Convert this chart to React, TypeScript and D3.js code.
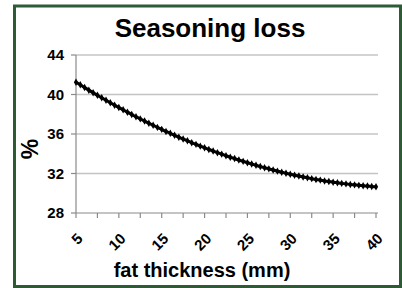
import React, { useEffect } from 'react';
import * as d3 from 'd3';

// fat thickness (mm), one point every 0.5 mm
const thickness = [
  5, 5.5, 6, 6.5, 7, 7.5, 8, 8.5, 9, 9.5, 10, 10.5, 11, 11.5, 12, 12.5, 13, 13.5,
  14, 14.5, 15, 15.5, 16, 16.5, 17, 17.5, 18, 18.5, 19, 19.5, 20, 20.5, 21, 21.5,
  22, 22.5, 23, 23.5, 24, 24.5, 25, 25.5, 26, 26.5, 27, 27.5, 28, 28.5, 29, 29.5,
  30, 30.5, 31, 31.5, 32, 32.5, 33, 33.5, 34, 34.5, 35, 35.5, 36, 36.5, 37, 37.5,
  38, 38.5, 39, 39.5, 40,
];

// seasoning loss (%)
const loss = [
  41.25, 40.98, 40.71, 40.44, 40.18, 39.92, 39.67, 39.42, 39.17, 38.92, 38.68, 38.45,
  38.21, 37.98, 37.75, 37.53, 37.31, 37.09, 36.88, 36.67, 36.47, 36.26, 36.07, 35.87,
  35.68, 35.49, 35.31, 35.12, 34.95, 34.77, 34.6, 34.44, 34.27, 34.11, 33.96, 33.8,
  33.65, 33.51, 33.36, 33.23, 33.09, 32.96, 32.83, 32.7, 32.58, 32.47, 32.35, 32.24,
  32.13, 32.03, 31.93, 31.83, 31.74, 31.65, 31.56, 31.48, 31.4, 31.33, 31.25, 31.19,
  31.12, 31.06, 31.0, 30.95, 30.89, 30.85, 30.8, 30.76, 30.73, 30.69, 30.66,
];

const xTicks = [5, 7.5, 10, 12.5, 15, 17.5, 20, 22.5, 25, 27.5, 30, 32.5, 35, 37.5, 40];
const xLabels = [5, 10, 15, 20, 25, 30, 35, 40];
const yTicks = [28, 32, 36, 40, 44];

const FONT = '"Liberation Sans", Arial, sans-serif';

export default function App() {
  useEffect(() => {
    document.body.style.margin = '0';
  }, []);

  const left = 76;
  const right = 378;
  const top = 55;
  const bottom = 213;

  const x = d3.scaleLinear().domain([5, 40]).range([left, 376]);
  const y = d3.scaleLinear().domain([28, 44]).range([bottom, top]);

  const pts = thickness.map((t, i) => [t, loss[i]] as [number, number]);
  const line = d3.line<[number, number]>()
    .x(d => x(d[0]))
    .y(d => y(d[1]))
    .curve(d3.curveMonotoneX);
  const diamond = d3.symbol().type(d3.symbolDiamond).size(16)();

  return (
    <svg width={402} height={288} style={{ display: 'block' }} fontFamily={FONT}>
      <rect x={0} y={0} width={402} height={288} fill="#fff" />
      <rect x={14.5} y={6} width={386} height={280.5} fill="#fff" stroke="#2f5a36" strokeWidth={3} />

      <text x={210} y={37} textAnchor="middle" fontSize={26} fontWeight="bold">
        Seasoning loss
      </text>

      {/* gridlines */}
      {yTicks.slice(1).map(v => (
        <line key={'g' + v} x1={left} x2={right} y1={y(v)} y2={y(v)} stroke="#c4c4c4" strokeWidth={1.3} />
      ))}

      {/* axes */}
      <line x1={left} x2={left} y1={top} y2={bottom} stroke="#8a8a8a" strokeWidth={1.2} />
      <line x1={left} x2={right} y1={bottom} y2={bottom} stroke="#8a8a8a" strokeWidth={1.2} />

      {yTicks.map(v => (
        <g key={'y' + v}>
          <line x1={left - 5} x2={left} y1={y(v)} y2={y(v)} stroke="#8a8a8a" strokeWidth={1.2} />
          <text x={64} y={y(v)} dy="0.35em" textAnchor="end" fontSize={15} fontWeight="bold">
            {v}
          </text>
        </g>
      ))}

      {xTicks.map(v => (
        <line key={'xt' + v} x1={x(v)} x2={x(v)} y1={bottom} y2={bottom + 5} stroke="#8a8a8a" strokeWidth={1.2} />
      ))}
      {xLabels.map(v => (
        <text
          key={'xl' + v}
          transform={`translate(${x(v) + 4},${236}) rotate(-45)`}
          textAnchor="end"
          dy="0.35em"
          fontSize={15}
          fontWeight="bold"
        >
          {v}
        </text>
      ))}

      <text
        transform={`translate(38,149) rotate(-90)`}
        textAnchor="middle"
        fontSize={23}
        fontWeight="bold"
      >
        %
      </text>
      <text x={202} y={277} textAnchor="middle" fontSize={20} fontWeight="bold">
        fat thickness (mm)
      </text>

      {/* series */}
      <path d={line(pts) || ''} fill="none" stroke="#000" strokeWidth={3} />
      {pts.map((d, i) => (
        <path key={i} d={diamond || ''} transform={`translate(${x(d[0])},${y(d[1])})`} fill="#000" />
      ))}
    </svg>
  );
}
